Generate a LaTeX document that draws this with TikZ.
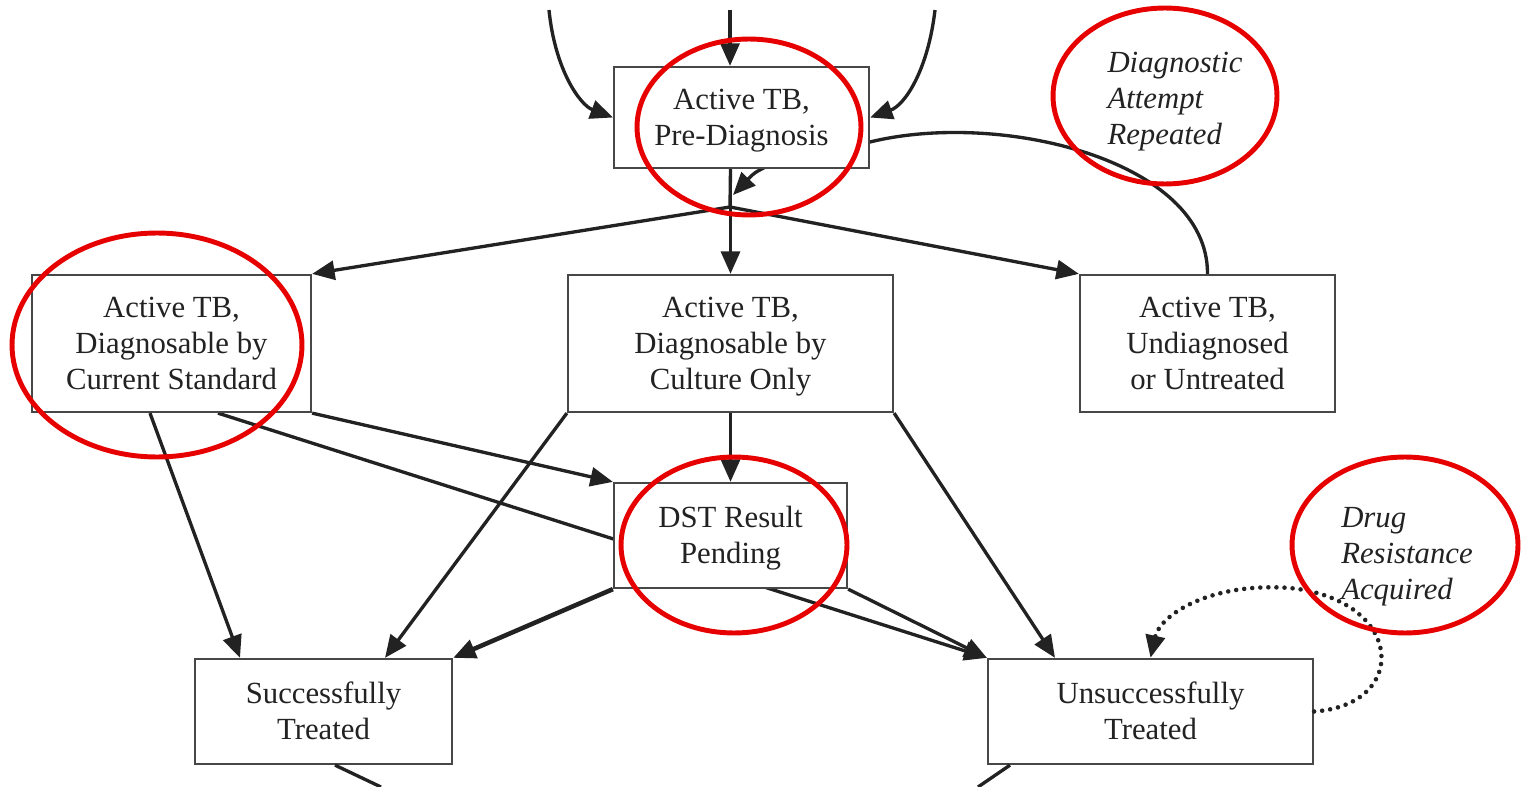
\documentclass[tikz,border=0pt]{standalone}
\usepackage{fontspec}
\setmainfont{Liberation Serif}
\usetikzlibrary{arrows.meta,calc,backgrounds}
\definecolor{ink}{HTML}{222222}
\definecolor{boxline}{HTML}{474747}
\definecolor{mark}{HTML}{E60000}
\newcommand{\toppad}{\rule{0pt}{16pt}}
\newcommand{\botpad}{\rule[-4.2pt]{0pt}{4.2pt}}
\tikzset{
  stbox/.style={draw=boxline, line width=1.3pt, fill=white, inner sep=0pt, align=center, text=ink, font=\fontsize{17.5}{20.5}\selectfont},
  edge/.style={draw=ink, line width=1.9pt, -{Triangle[length=0.45cm,width=0.38cm]}},
  plain/.style={draw=ink, line width=1.9pt},
  note/.style={font=\fontsize{17.5}{20.5}\selectfont\itshape, text=ink, align=left, inner sep=0pt},
  hilite/.style={draw=mark, line width=2.8pt},
  dots/.style={draw=ink, line width=2.6pt, line cap=round, dash pattern=on 0pt off 4.6pt, -{Triangle[length=0.45cm,width=0.38cm]}}
}
\begin{document}
\begin{tikzpicture}[x=0.02cm,y=-0.02cm]
\useasboundingbox (0,0) rectangle (1525,787);
% states
\node[stbox, minimum width=5.1cm, minimum height=2.02cm] (pre) at (741.5,117.5) {\toppad Active TB,\\Pre-Diagnosis\botpad};
\node[stbox, minimum width=5.58cm, minimum height=2.74cm] (cs) at (171.5,343.5) {\toppad Active TB,\\Diagnosable by\\Current Standard\botpad};
\node[stbox, minimum width=6.5cm, minimum height=2.74cm] (co) at (730.5,343.5) {\toppad Active TB,\\Diagnosable by\\Culture Only\botpad};
\node[stbox, minimum width=5.1cm, minimum height=2.74cm] (ud) at (1207.5,343.5) {\toppad Active TB,\\Undiagnosed\\or Untreated\botpad};
\node[stbox, minimum width=4.66cm, minimum height=2.1cm] (dst) at (730.5,535.5) {\toppad DST Result\\Pending\botpad};
\node[stbox, minimum width=5.14cm, minimum height=2.1cm] (st) at (323.5,711.5) {\toppad Successfully\\Treated\botpad};
\node[stbox, minimum width=6.5cm, minimum height=2.1cm] (ut) at (1150.5,711.5) {\toppad Unsuccessfully\\Treated\botpad};
% free ends
\coordinate (in1) at (549,10);
\coordinate (in2) at (730,10);
\coordinate (in3) at (935,10);
\coordinate (jn) at (730,207);
\coordinate (lt) at (733,195);
\coordinate (out1) at (381,787);
\coordinate (out2) at (978,787);
% incoming
\draw[edge] (in1) .. controls (555,70) and (580,105) .. (pre.west);
\draw[edge] (in2) -- (pre.north -| in2);
\draw[edge] (in3) .. controls (928,70) and (905,105) .. (pre.east);
% from pre-diagnosis
\draw[edge] (pre.south -| co.north) -- (co.north);
\draw[edge] (pre.south -| co.north) -- (jn) -- (cs.north east);
\draw[edge] (jn) -- (ud.north west);
% edges passing behind boxes
\begin{pgfonlayer}{background}
\draw[edge] (ud.north) .. controls (1208,160) and (1000,110) .. (870,142) -- (780,160) .. controls (755,172) .. (lt);
\draw[edge] ($(cs.south)+(46.5,0)$) -- (ut.north west);
\end{pgfonlayer}
% from current standard
\draw[edge] ($(cs.south)+(-21.5,0)$) -- ($(st.north)+(-83.5,0)$);
\draw[edge] (cs.south east) -- (dst.north west);
% from culture only
\draw[edge] (co.south) -- (dst.north);
\draw[edge] (co.south west) -- ($(st.north)+(61.5,0)$);
\draw[edge] (co.south east) -- ($(ut.north)+(-95.5,0)$);
% from DST
\draw[edge, line width=2.6pt] (dst.south west) -- (st.north east);
\draw[edge] (dst.south east) -- (ut.north west);
% drug resistance loop
\draw[dots] (ut.east) .. controls (1410,705) and (1405,600) .. (1290,588) .. controls (1210,582) and (1160,615) .. (ut.north);
% outgoing at bottom
\draw[plain] ($(st.south)+(11.5,0)$) -- (out1);
\draw[plain] ($(ut.south)+(-140.5,0)$) -- (out2);
% notes
\node[note] (rep) at (1175,102) {Diagnostic\\Attempt\\Repeated};
\node[note] (dra) at (1407,557) {Drug\\Resistance\\Acquired};
% red highlights
\draw[hilite] (749,127) ellipse [x radius=2.24cm, y radius=1.76cm];
\draw[hilite] (1165,96) ellipse [x radius=2.24cm, y radius=1.76cm];
\draw[hilite] (157,345) ellipse [x radius=2.9cm, y radius=2.24cm];
\draw[hilite] (734,545) ellipse [x radius=2.26cm, y radius=1.76cm];
\draw[hilite] (1405,545) ellipse [x radius=2.26cm, y radius=1.76cm];
\end{tikzpicture}
\end{document}
